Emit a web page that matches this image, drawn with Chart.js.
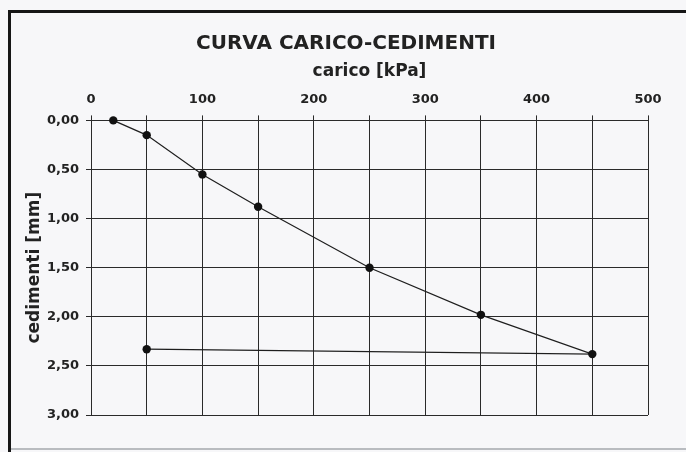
<!DOCTYPE html>
<html>
<head>
<meta charset="utf-8">
<script src="https://cdn.jsdelivr.net/npm/chart.js@4/dist/chart.umd.min.js"></script>
<style>
  html, body { margin: 0; padding: 0; }
  body { width: 686px; height: 452px; background: #f7f7f9; position: relative; overflow: hidden; }
  #c { position: absolute; left: 0; top: 0; }
  .fl { position: absolute; background: #161616; }
</style>
</head>
<body>
<canvas id="c" width="686" height="452"></canvas>
<div class="fl" style="left:8px;top:10px;width:3px;height:442px;"></div>
<div class="fl" style="left:8px;top:10px;width:678px;height:3px;"></div>
<div class="fl" style="left:11px;top:448px;width:675px;height:2px;background:#b9bcc0;"></div>
<script>
// Data
const carico = [20, 50, 100, 150, 250, 350, 450, 50];          // kPa
const cedimenti = [0.00, 0.15, 0.55, 0.88, 1.50, 1.98, 2.38, 2.33]; // mm
const xTickLabels = ['0', '100', '200', '300', '400', '500'];
const yTickLabels = ['0,00', '0,50', '1,00', '1,50', '2,00', '2,50', '3,00'];

const points = carico.map((x, i) => ({ x: x, y: cedimenti[i] }));
const FONT = "'DejaVu Sans', Verdana, sans-serif";
const gridColor = '#2a2a2a';
const textColor = '#222';

new Chart(document.getElementById('c'), {
  type: 'scatter',
  data: {
    datasets: [{
      data: points,
      showLine: true,
      clip: false,
      borderColor: '#1e1e1e',
      borderWidth: 1.2,
      pointRadius: 4.2,
      pointBackgroundColor: '#111',
      pointBorderColor: '#111',
      pointBorderWidth: 0,
      tension: 0
    }]
  },
  options: {
    responsive: false,
    animation: false,
    events: [],
    layout: { padding: { left: 6, right: 0, top: 0, bottom: 37 } },
    plugins: {
      legend: { display: false },
      tooltip: { enabled: false },
      title: {
        display: true,
        text: 'CURVA CARICO-CEDIMENTI',
        color: textColor,
        font: { family: FONT, size: 20, weight: 'bold' },
        padding: { top: 32, bottom: 3 }
      }
    },
    scales: {
      x: {
        type: 'linear',
        position: 'top',
        min: 0,
        max: 500,
        afterFit: s => { s.height = 61.4; },
        ticks: {
          stepSize: 50,
          padding: 8,
          color: textColor,
          font: { family: FONT, size: 13, weight: 'bold' },
          maxRotation: 0,
          autoSkip: false,
          callback: v => {
            const idx = xTickLabels.indexOf(String(v));
            return idx >= 0 ? xTickLabels[idx] : '';
          }
        },
        grid: { color: gridColor, lineWidth: 1, tickLength: 5, drawTicks: true },
        border: { color: gridColor, width: 1 },
        title: {
          display: true,
          text: 'carico [kPa]',
          color: textColor,
          font: { family: FONT, size: 17, weight: 'bold' },
          padding: { top: 2.8, bottom: 0 }
        }
      },
      y: {
        type: 'linear',
        reverse: true,
        min: 0,
        max: 3,
        afterFit: s => { s.width = 85; },
        ticks: {
          stepSize: 0.5,
          padding: 7,
          color: textColor,
          font: { family: FONT, size: 13, weight: 'bold' },
          callback: (v) => {
            const i = Math.round(v / 0.5);
            return yTickLabels[i] !== undefined ? yTickLabels[i] : '';
          }
        },
        grid: { color: gridColor, lineWidth: 1, tickLength: 5 },
        border: { color: gridColor, width: 1 },
        title: {
          display: true,
          text: 'cedimenti [mm]',
          color: textColor,
          font: { family: FONT, size: 17, weight: 'bold' },
          padding: { top: 18.8, bottom: 0 }
        }
      },
      yRightSpace: {
        type: 'linear',
        position: 'right',
        display: true,
        afterFit: s => { s.width = 38; },
        ticks: { display: false },
        grid: { display: false, drawTicks: false },
        border: { display: false },
        title: { display: false }
      }
    }
  }
});
</script>
</body>
</html>
